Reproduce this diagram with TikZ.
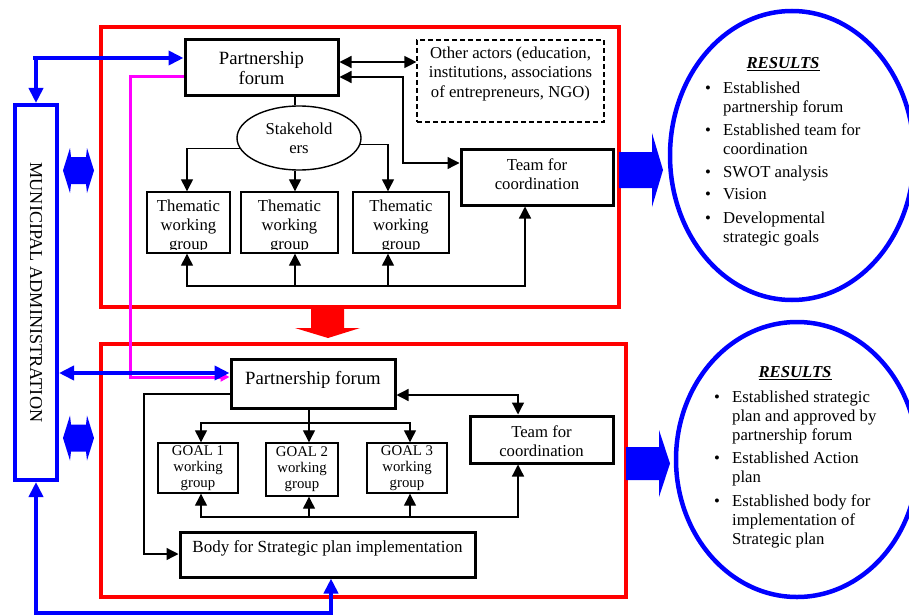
\documentclass[tikz,border=0pt]{standalone}
\usepackage{fontspec}
\setmainfont{Liberation Serif}
\usetikzlibrary{arrows.meta,shapes.geometric}
\newcommand\fmid{\fontsize{16.7}{19.5}\selectfont}
\newcommand\fbig{\fontsize{18.7}{20}\selectfont}
\newcommand\fgoal{\fontsize{14.8}{16}\selectfont}
\newcommand\fma{\fontsize{18.2}{20}\selectfont}
\newcommand\fres{\fontsize{16.7}{19}\selectfont}
\definecolor{pureblue}{RGB}{0,0,255}
\definecolor{purered}{RGB}{255,0,0}
\definecolor{puremag}{RGB}{255,0,255}
\begin{document}
\begin{tikzpicture}[x=1pt,y=-1pt,
  thickbox/.style={draw, line width=3pt, inner sep=0pt},
  thinbox/.style={draw, line width=1.4pt, inner sep=0pt},
  dashbox/.style={draw, line width=1.2pt, dash pattern=on 5pt off 3pt, inner sep=0pt},
  redbox/.style={draw=purered, line width=4pt, inner sep=0pt},
  resell/.style={draw=pureblue, line width=4.5pt, ellipse, inner sep=0pt},
  txt/.style={inner sep=0pt, align=center, font=\fmid},
  conn/.style={line width=1.3pt},
  arr/.style={conn, -{Triangle[width=12pt,length=12pt]}},
  dbl/.style={conn, {Triangle[width=12pt,length=12pt]}-{Triangle[width=12pt,length=12pt]}},
  blu/.style={draw=pureblue, line width=4pt},
  bluarr/.style={blu, -{Triangle[width=14pt,length=15pt]}},
  bludbl/.style={blu, {Triangle[width=14pt,length=15pt]}-{Triangle[width=14pt,length=15pt]}},
  mag/.style={draw=puremag, line width=3pt, -{Triangle[width=9pt,length=9pt]}},
  blockblue/.style={fill=pureblue, draw=none},
  blockred/.style={fill=purered, draw=none}]
\useasboundingbox (0,0) rectangle (909,615);

% containers
\node[redbox, minimum width=518pt, minimum height=280pt] (rtop) at (360,167) {};
\node[redbox, minimum width=525pt, minimum height=253pt] (rbot) at (363.5,470.5) {};
\node[draw=pureblue, line width=4pt, inner sep=0pt, minimum width=42pt, minimum height=375pt] (ma) at (36,292.5) {};
\node[font=\fma, rotate=-90, inner sep=0pt] (mat) at (36,292.5) {MUNICIPAL ADMINISTRATION};

% results ellipses
\node[resell, minimum width=244pt, minimum height=289pt] (res1) at (792,155.5) {};
\node[resell, minimum width=242pt, minimum height=275pt] (res2) at (797,459.5) {};

% block arrows
\fill[blockblue] (619,152) -- (652,152) -- (652,133) -- (663,170) -- (652,207) -- (652,188) -- (619,188) -- cycle;
\fill[blockblue] (626,447) -- (659,447) -- (659,430) -- (670,463.5) -- (659,497) -- (659,480) -- (626,480) -- cycle;
\fill[blockblue] (63,170.5) -- (70,148) -- (71,157) -- (86,157) -- (87,148) -- (94,170.5) -- (87,193) -- (86,184) -- (71,184) -- (70,193) -- cycle;
\fill[blockblue] (63,438) -- (70,415.5) -- (71,424.5) -- (86,424.5) -- (87,415.5) -- (94,438) -- (87,460.5) -- (86,451.5) -- (71,451.5) -- (70,460.5) -- cycle;
\fill[blockred] (311,307) -- (344,307) -- (344,328) -- (360,328) -- (328,338) -- (295,328) -- (311,328) -- cycle;

% top section boxes
\node[thickbox, minimum width=153pt, minimum height=56pt, txt, font=\fbig] (pf1) at (261.5,68) {Partnership\\forum};
\node[dashbox, minimum width=187pt, minimum height=82pt] (oa) at (510.5,81) {};
\node[txt] (oat) at (510.5,73.5) {Other actors (education,\\institutions, associations\\of entrepreneurs, NGO)};
\node[thickbox, minimum width=152pt, minimum height=56pt] (tc1) at (537,177) {};
\node[txt, font=\fontsize{16.7}{19}\selectfont] (tc1t) at (537,174.5) {Team for\\coordination};
\node[thinbox, ellipse, minimum width=124pt, minimum height=64pt, txt, font=\fontsize{16.7}{19}\selectfont] (el) at (299,138) {Stakehold\\ers};
\node[thinbox, minimum width=83pt, minimum height=61pt] (t1) at (188.5,222.5) {};
\node[thinbox, minimum width=97pt, minimum height=61pt] (t2) at (289.5,222.5) {};
\node[thinbox, minimum width=96pt, minimum height=61pt] (t3) at (401,222.5) {};
\begin{scope}
\clip (t1.north west) rectangle ([yshift=4.5pt]t1.south east);
\node[txt, font=\fontsize{16.7}{19}\selectfont] (t1t) at (188.5,227) {Thematic\\working\\group};
\end{scope}
\begin{scope}
\clip (t2.north west) rectangle ([yshift=4.5pt]t2.south east);
\node[txt, font=\fontsize{16.7}{19}\selectfont] (t2t) at (289.5,227) {Thematic\\working\\group};
\end{scope}
\begin{scope}
\clip (t3.north west) rectangle ([yshift=4.5pt]t3.south east);
\node[txt, font=\fontsize{16.7}{19}\selectfont] (t3t) at (401,227) {Thematic\\working\\group};
\end{scope}

% bottom section boxes
\node[thickbox, minimum width=164pt, minimum height=49pt] (pf2) at (313,383.5) {};
\node[txt, font=\fbig] (pf2t) at (313,380) {Partnership forum};
\node[thinbox, minimum width=80pt, minimum height=50pt, txt, font=\fgoal] (g1) at (198,468) {GOAL 1\\working\\group};
\node[thinbox, minimum width=72pt, minimum height=53pt, txt, font=\fgoal] (g2) at (302,469.5) {GOAL 2\\working\\group};
\node[thinbox, minimum width=80pt, minimum height=50pt, txt, font=\fgoal] (g3) at (407,468) {GOAL 3\\working\\group};
\node[thickbox, minimum width=143pt, minimum height=47pt] (tc2) at (541.5,439.5) {};
\node[txt, font=\fontsize{16.7}{19}\selectfont] (tc2t) at (541.5,441.5) {Team for\\coordination};
\node[thickbox, minimum width=295pt, minimum height=45pt] (body) at (327.5,554.5) {};
\node[txt, font=\fontsize{17}{19}\selectfont] (bodyt) at (327.5,548) {Body for Strategic plan implementation};

% results texts
\node[txt, font=\fres] (rh1) at (783,64) {\underline{\textbf{\textit{RESULTS}}}};
\node[anchor=north west, inner sep=0pt, font=\fres] (rl1) at (705,80) {\begin{tabular}{@{}p{18pt}@{}l@{}}
\textbullet & Established\\
 & partnership forum\\[4pt]
\textbullet & Established team for\\
 & coordination\\[4pt]
\textbullet & SWOT analysis\\[3pt]
\textbullet & Vision\\[5pt]
\textbullet & Developmental\\
 & strategic goals
\end{tabular}};
\node[txt, font=\fres] (rh2) at (795,373) {\underline{\textbf{\textit{RESULTS}}}};
\node[anchor=north west, inner sep=0pt, font=\fres] (rl2) at (714,389) {\begin{tabular}{@{}p{18pt}@{}l@{}}
\textbullet & Established strategic\\
 & plan and approved by\\
 & partnership forum\\[4pt]
\textbullet & Established Action\\
 & plan\\[5pt]
\textbullet & Established body for\\
 & implementation of\\
 & Strategic plan
\end{tabular}};

% helper coordinates
\coordinate (x295) at (295,0);
\coordinate (x309) at (309,0);
\coordinate (x388) at (388,0);
\coordinate (xa) at (187,0);

% magenta link
\coordinate (m1) at (130,77);
\coordinate (m2) at (130,377);
\draw[mag] (pf1.west |- m1) -- (m1) -- (m2) -- (pf2.west |- m2);

% top connectors
\coordinate (y62) at (0,62);
\draw[dbl] (pf1.east |- y62) -- (oa.west |- y62);
\coordinate (k1) at (403,163);
\coordinate (k2) at (403,77);
\draw[dbl] (tc1.west |- k1) -- (k1) -- (k2) -- (pf1.east |- k2);
\draw[conn] (pf1.south -| x295) -- (el.north -| x295);
\draw[arr] (el.190) -| (t1.north -| xa);
\draw[arr] (el.-6) -| (t3.north -| x388);
\draw[arr] (el.south -| x295) -- (t2.north -| x295);
\coordinate (bA) at (187,286);
\coordinate (bD) at (525,286);
\draw[dbl] (t1.south -| bA) -- (bA) -- (bD) -- (tc1.south -| bD);
\draw[arr] (x295 |- bA) -- (t2.south -| x295);
\draw[arr] (x388 |- bA) -- (t3.south -| x388);

% bottom connectors
\coordinate (p1) at (144,394);
\coordinate (p2) at (144,554);
\draw[arr] (pf2.west |- p1) -- (p1) -- (p2) -- (body.west |- p2);
\draw[arr] (pf2.south -| x309) -- (g2.north -| x309);
\coordinate (h1) at (201,423);
\coordinate (h3) at (410,423);
\draw[dbl] (g1.north -| h1) -- (h1) -- (h3) -- (g3.north -| h3);
\coordinate (q1) at (518,395);
\draw[dbl] (pf2.east |- q1) -- (q1) -- (tc2.north -| q1);
\coordinate (u1) at (201,517);
\coordinate (u3) at (410,517);
\coordinate (u4) at (518,517);
\draw[dbl] (g1.south -| u1) -- (u1) -- (u4) -- (tc2.south -| u4);
\draw[arr] (x309 |- u1) -- (g2.south -| x309);
\draw[arr] (u3) -- (g3.south -| u3);

% blue connectors
\coordinate (bj) at (36,58);
\draw[bluarr] (bj) -- (ma.north);
\draw[bluarr] ([xshift=-3pt]bj) -- (pf1.west |- bj);
\coordinate (y373) at (0,373);
\draw[bludbl] (ma.east |- y373) -- (pf2.west |- y373);
\coordinate (z1) at (36,613);
\coordinate (z2) at (331,613);
\draw[bludbl] (ma.south) -- (z1) -- (z2) -- (body.south -| z2);
\end{tikzpicture}
\end{document}
